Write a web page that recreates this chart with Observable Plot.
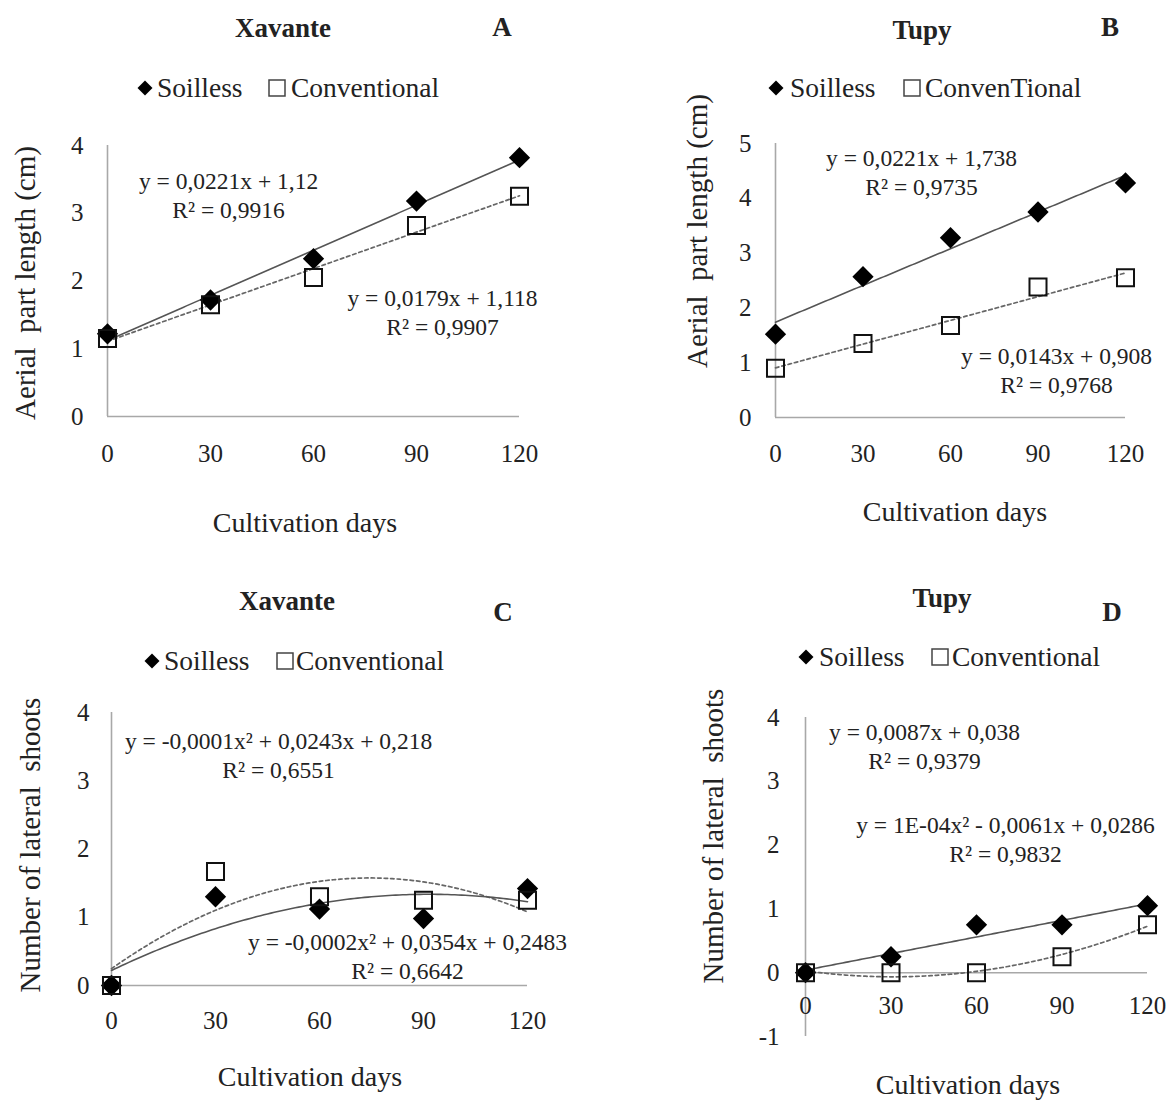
<!DOCTYPE html>
<html><head><meta charset="utf-8">
<script src="https://cdn.jsdelivr.net/npm/d3@7"></script>
<script src="https://cdn.jsdelivr.net/npm/@observablehq/plot@0.6"></script>
<style>
body{margin:0;background:#fff;}
#root{position:relative;width:1169px;height:1100px;overflow:hidden;font-family:"Liberation Serif","Times New Roman",serif;color:#222;}
.c{position:absolute;white-space:pre;transform:translate(-50%,-50%);line-height:1;}
.l{position:absolute;white-space:pre;transform:translateY(-50%);line-height:1;font-size:27.5px;}
.title{font-weight:bold;font-size:27px;}
.axl{font-size:28px;}
.yl{font-size:29px;transform:translate(-50%,-50%) rotate(-90deg);}
svg.sym{position:absolute;transform:translateY(-50%);overflow:visible;}
</style></head><body><div id="root"></div><script>
// ---------- data ----------
const days = [0, 30, 60, 90, 120];
const xTicks = [0, 30, 60, 90, 120];
const aSoilless = [1.22, 1.72, 2.33, 3.18, 3.82];
const aConventional = [1.15, 1.65, 2.05, 2.82, 3.25];
const bSoilless = [1.52, 2.57, 3.28, 3.75, 4.28];
const bConventional = [0.9, 1.35, 1.68, 2.38, 2.55];
const cSoilless = [0, 1.3, 1.12, 0.98, 1.42];
const cConventional = [0, 1.67, 1.3, 1.25, 1.25];
const dSoilless = [0, 0.25, 0.75, 0.75, 1.05];
const dConventional = [0, 0, 0, 0.25, 0.75];
const yTicksA = [0, 1, 2, 3, 4];
const yTicksB = [0, 1, 2, 3, 4, 5];
const yTicksC = [0, 1, 2, 3, 4];
const yTicksD = [-1, 0, 1, 2, 3, 4];
const titles = ["Xavante", "Tupy", "Xavante", "Tupy"];
const letters = ["A", "B", "C", "D"];
const legendSoilless = ["Soilless", "Soilless", "Soilless", "Soilless"];
const legendConventional = ["Conventional", "ConvenTional", "Conventional", "Conventional"];
const yLabels = ["Aerial  part length (cm)", "Aerial  part length (cm)", "Number of lateral  shoots", "Number of lateral  shoots"];
const xLabel = "Cultivation days";
const eqSoilless = ["y = 0,0221x + 1,12\nR² = 0,9916", "y = 0,0221x + 1,738\nR² = 0,9735",
  "y = -0,0001x² + 0,0243x + 0,218\nR² = 0,6551", "y = 0,0087x + 0,038\nR² = 0,9379"];
const eqConventional = ["y = 0,0179x + 1,118\nR² = 0,9907", "y = 0,0143x + 0,908\nR² = 0,9768",
  "y = -0,0002x² + 0,0354x + 0,2483\nR² = 0,6642", "y = 1E-04x² - 0,0061x + 0,0286\nR² = 0,9832"];
const fitDegreeSoilless = [1, 1, 2, 1];
const fitDegreeConventional = [1, 1, 2, 2];

// ---------- least squares trendline ----------
function fit(xs, ys, degree) {
  const m = degree + 1;
  const A = Array.from({length: m}, () => new Array(m + 1).fill(0));
  for (let i = 0; i < xs.length; i++) {
    for (let r = 0; r < m; r++) {
      for (let c = 0; c < m; c++) A[r][c] += Math.pow(xs[i], r + c);
      A[r][m] += ys[i] * Math.pow(xs[i], r);
    }
  }
  for (let k = 0; k < m; k++) {
    let p = k;
    for (let i = k + 1; i < m; i++) if (Math.abs(A[i][k]) > Math.abs(A[p][k])) p = i;
    [A[k], A[p]] = [A[p], A[k]];
    for (let i = k + 1; i < m; i++) { const f = A[i][k] / A[k][k]; for (let j = k; j <= m; j++) A[i][j] -= f * A[k][j]; }
  }
  const coef = new Array(m).fill(0);
  for (let i = m - 1; i >= 0; i--) { let s = A[i][m]; for (let j = i + 1; j < m; j++) s -= A[i][j] * coef[j]; coef[i] = s / A[i][i]; }
  return x => coef.reduce((acc, c, i) => acc + c * Math.pow(x, i), 0);
}

// ---------- layout (page pixels) ----------
const panels = [
  {soil: aSoilless, conv: aConventional, yTicks: yTicksA, left: 0, top: 110, w: 580, h: 370, x0: 107, x1: 519, yTop: 145, yBot: 416, yPad: 24, xDy: 37,
   eq1: [228, 194], eq2: [442, 311], title: [283, 28], letter: [502, 27], leg: {y: 88, d: 145, s: 157, q: 268, c: 291}, yl: [25, 283], xl: [305, 523]},
  {soil: bSoilless, conv: bConventional, yTicks: yTicksB, left: 585, top: 110, w: 584, h: 370, x0: 775, x1: 1125, yTop: 143, yBot: 417, yPad: 24, xDy: 36,
   eq1: [921, 171], eq2: [1056, 369], title: [922, 30], letter: [1110, 27], leg: {y: 88, d: 776, s: 790, q: 903, c: 925}, yl: [697, 231], xl: [955, 512]},
  {soil: cSoilless, conv: cConventional, yTicks: yTicksC, left: 0, top: 680, w: 580, h: 370, x0: 111, x1: 527, yTop: 712, yBot: 985, yPad: 22, xDy: 35,
   eq1: [278, 754], eq2: [407, 955], title: [287, 601], letter: [503, 612], leg: {y: 661, d: 152, s: 164, q: 276, c: 296}, yl: [30, 845], xl: [310, 1077]},
  {soil: dSoilless, conv: dConventional, yTicks: yTicksD, left: 585, top: 680, w: 584, h: 390, x0: 805, x1: 1147, yTop: 717, yBot: 1036, yPad: 26, xDy: 33,
   eq1: [924, 745], eq2: [1005, 838], title: [942, 598], letter: [1112, 612], leg: {y: 657, d: 806, s: 819, q: 931, c: 952}, yl: [713, 836], xl: [968, 1085]}
];

const FONT = '"Liberation Serif","Times New Roman",serif';
const root = document.getElementById("root");

function addText(txt, cls, x, y) {
  const el = document.createElement("div");
  el.className = cls; el.textContent = txt;
  el.style.left = x + "px"; el.style.top = y + "px";
  root.appendChild(el);
  return el;
}
function addSym(kind, x, y) {
  const ns = "http://www.w3.org/2000/svg";
  const s = document.createElementNS(ns, "svg");
  s.setAttribute("class", "sym");
  s.setAttribute("width", 18); s.setAttribute("height", 18);
  s.style.left = x + "px"; s.style.top = y + "px";
  const p = document.createElementNS(ns, "path");
  if (kind === "diamond") { p.setAttribute("d", "M9,1.5L16.5,9L9,16.5L1.5,9Z"); p.setAttribute("fill", "#000"); }
  else { p.setAttribute("d", "M1,1H17V17H1Z"); p.setAttribute("fill", "none"); p.setAttribute("stroke", "#444"); p.setAttribute("stroke-width", "1.5"); }
  s.appendChild(p);
  root.appendChild(s);
}

panels.forEach((p, i) => {
  const soilRows = days.map((d, k) => ({x: d, y: p.soil[k]}));
  const convRows = days.map((d, k) => ({x: d, y: p.conv[k]}));
  const fS = fit(days, p.soil, fitDegreeSoilless[i]);
  const fC = fit(days, p.conv, fitDegreeConventional[i]);
  const grid = d3.range(0, 120.5, 1);
  const curveS = grid.map(x => ({x, y: fS(x)}));
  const curveC = grid.map(x => ({x, y: fC(x)}));
  const yDomain = [p.yTicks[0], p.yTicks[p.yTicks.length - 1]];
  const mL = p.x0 - p.left, mT = p.yTop - p.top;
  const svg = Plot.plot({
    width: p.w, height: p.h,
    marginLeft: mL, marginRight: p.left + p.w - p.x1,
    marginTop: mT, marginBottom: p.top + p.h - p.yBot,
    x: {domain: [0, 120], axis: null},
    y: {domain: yDomain, axis: null},
    style: {fontFamily: FONT, fontSize: "25px", color: "#222", background: "transparent", overflow: "visible"},
    marks: [
      Plot.ruleY([0], {stroke: "#a8a8a8", strokeWidth: 1.6}),
      Plot.ruleX([0], {stroke: "#a8a8a8", strokeWidth: 1.6}),
      Plot.axisY(p.yTicks, {tickSize: 0, tickPadding: p.yPad, label: null, tickFormat: d => String(d), fontSize: 25}),
      Plot.text(xTicks, {x: d => d, y: () => 0, dy: p.xDy, text: d => String(d), fontSize: 25, fill: "#222"}),
      Plot.line(curveC, {x: "x", y: "y", stroke: "#666", strokeWidth: 1.7, strokeDasharray: "3.5,3"}),
      Plot.line(curveS, {x: "x", y: "y", stroke: "#555", strokeWidth: 1.6}),
      Plot.dot(soilRows, {x: "x", y: "y", symbol: "diamond2", r: 9.6, fill: "#000", stroke: "none"}),
      Plot.dot(convRows, {x: "x", y: "y", symbol: "square", r: 9.6, fill: "none", stroke: "#111", strokeWidth: 2}),
      Plot.text([eqSoilless[i]], {frameAnchor: "top-left", dx: p.eq1[0] - p.x0, dy: p.eq1[1] - p.yTop, text: d => d, textAnchor: "middle", lineAnchor: "middle", lineHeight: 1.2, fontSize: 23.5, fill: "#222"}),
      Plot.text([eqConventional[i]], {frameAnchor: "top-left", dx: p.eq2[0] - p.x0, dy: p.eq2[1] - p.yTop, text: d => d, textAnchor: "middle", lineAnchor: "middle", lineHeight: 1.2, fontSize: 23.5, fill: "#222"})
    ]
  });
  svg.style.position = "absolute";
  svg.style.left = p.left + "px";
  svg.style.top = p.top + "px";
  root.appendChild(svg);

  addText(titles[i], "c title", p.title[0], p.title[1]);
  addText(letters[i], "c title", p.letter[0], p.letter[1]);
  addSym("diamond", p.leg.d - 9, p.leg.y);
  addText(legendSoilless[i], "l", p.leg.s, p.leg.y);
  addSym("square", p.leg.q, p.leg.y);
  addText(legendConventional[i], "l", p.leg.c, p.leg.y);
  addText(yLabels[i], "c yl", p.yl[0], p.yl[1]);
  addText(xLabel, "c axl", p.xl[0], p.xl[1]);
});
</script></body></html>
